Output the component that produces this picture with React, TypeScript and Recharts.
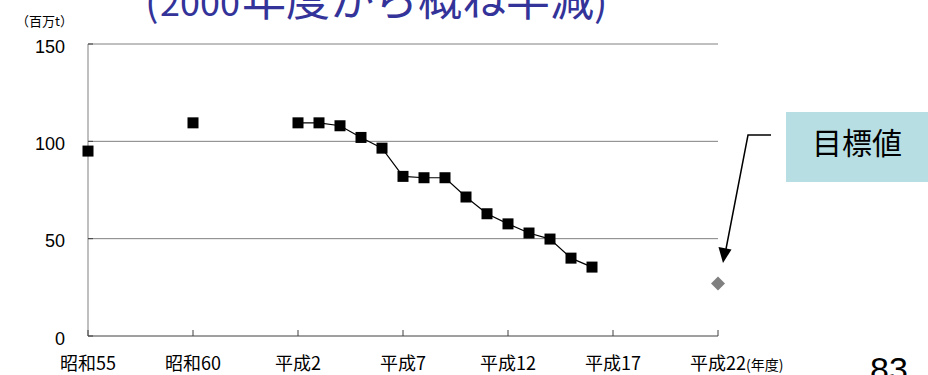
import { ComposedChart, Line, XAxis, YAxis, CartesianGrid } from 'recharts';

// 昭和55・60 の単独の値
const isolatedYears = [1980, 1985];
const isolatedValues = [95, 109.5];

// 平成2 以降の連続した値
const seriesYears = [1990, 1991, 1992, 1993, 1994, 1995, 1996, 1997, 1998, 1999, 2000, 2001, 2002, 2003, 2004];
const seriesValues = [109.5, 109.5, 108, 102, 96.5, 82, 81.3, 81.3, 71.4, 62.8, 57.6, 52.9, 49.8, 40, 35.4];

// 目標値
const targetYears = [2010];
const targetValues = [27];

const tickYears = [1980, 1985, 1990, 1995, 2000, 2005, 2010];
const tickLabels = ['昭和55', '昭和60', '平成2', '平成7', '平成12', '平成17', '平成22'];
const yTicks = [0, 50, 100, 150];

const allYears = Array.from(new Set([...isolatedYears, ...seriesYears, ...targetYears])).sort((a, b) => a - b);
const rows = allYears.map(year => {
  const i = isolatedYears.indexOf(year);
  const s = seriesYears.indexOf(year);
  const t = targetYears.indexOf(year);
  return {
    year,
    isolated: i >= 0 ? isolatedValues[i] : null,
    main: s >= 0 ? seriesValues[s] : null,
    target: t >= 0 ? targetValues[t] : null,
  };
});

const GRAY = '#808080';
const JP = "'Noto Sans CJK JP', sans-serif";
const LATIN = "'Liberation Sans', Arial, sans-serif";

const Square = (props: any) => {
  const { cx, cy, index } = props;
  if (cx == null || cy == null) return <g key={`sq-${index}`} />;
  return <rect key={`sq-${index}`} x={cx - 5.5} y={cy - 5.5} width={11} height={11} fill="#000" />;
};

const Diamond = (props: any) => {
  const { cx, cy, index } = props;
  if (cx == null || cy == null) return <g key={`dm-${index}`} />;
  return <path key={`dm-${index}`} d={`M${cx},${cy - 7}L${cx + 7},${cy}L${cx},${cy + 7}L${cx - 7},${cy}Z`} fill={GRAY} />;
};

const XTick = (props: any) => {
  const { x, y, payload } = props;
  const label = tickLabels[tickYears.indexOf(payload.value)];
  const last = payload.value === tickYears[tickYears.length - 1];
  return (
    <g>
      <line x1={x} x2={x} y1={y} y2={y - 6} stroke="#404040" />
      <text x={x} y={y + 34} textAnchor="middle" fontSize={18} fontFamily={JP} fill="#000">{label}</text>
      {last && (
        <text x={x + 28} y={y + 34} textAnchor="start" fontSize={14} fontFamily={JP} fill="#000">(年度)</text>
      )}
    </g>
  );
};

const YTick = (props: any) => {
  const { x, y, payload } = props;
  return (
    <g>
      <line x1={x} x2={x + 5} y1={y} y2={y} stroke="#404040" />
      <text x={x - 23} y={y + 8.5} textAnchor="end" fontSize={18} fontFamily={LATIN} fill="#000">{payload.value}</text>
    </g>
  );
};

export default function App() {
  return (
    <div style={{ position: 'absolute', left: 0, top: 0, width: 928, height: 375, overflow: 'hidden', background: '#fff' }}>
      <ComposedChart width={928} height={375} data={rows} margin={{ top: 44, right: 210, bottom: 0, left: 0 }}>
        <CartesianGrid horizontal vertical={false} stroke={GRAY} strokeWidth={1} />
        <XAxis
          dataKey="year"
          type="number"
          domain={[1980, 2010]}
          ticks={tickYears}
          height={39}
          tickLine={false}
          tickSize={0}
          tickMargin={0}
          axisLine={{ stroke: GRAY }}
          tick={<XTick />}
          interval={0}
        />
        <YAxis
          domain={[0, 150]}
          ticks={yTicks}
          width={88}
          tickLine={false}
          tickSize={0}
          tickMargin={0}
          axisLine={{ stroke: GRAY }}
          tick={<YTick />}
          interval={0}
        />
        <Line dataKey="isolated" stroke="none" dot={Square} activeDot={false} connectNulls={false} isAnimationActive={false} />
        <Line dataKey="main" stroke="#000" strokeWidth={1.2} dot={Square} activeDot={false} connectNulls={false} isAnimationActive={false} />
        <Line dataKey="target" stroke="none" dot={Diamond} activeDot={false} connectNulls={false} isAnimationActive={false} />
      </ComposedChart>
      <svg width={928} height={375} style={{ position: 'absolute', left: 0, top: 0, pointerEvents: 'none' }}>
        <text y={16} fontFamily={JP} fill="#333399">
          <tspan x={145} fontSize={40}>(</tspan>
          <tspan x={160} fontSize={36}>2000</tspan>
          <tspan x={242} fontSize={44}>年度から概ね半減</tspan>
          <tspan fontSize={40}>)</tspan>
        </text>
        <text x={16} y={26} fontSize={13} fontFamily={JP} fill="#000">（百万t）</text>
        <rect x={786} y={112} width={142} height={70} fill="#B7DFE3" />
        <text x={857} y={154} textAnchor="middle" fontSize={30} fontFamily={JP} fill="#000">目標値</text>
        <polyline points="771,135 748,135 726,249" fill="none" stroke="#000" strokeWidth={1.5} />
        <path d="M723,263 L718.5,247 L731.5,249.5 Z" fill="#000" />
        <text x={870} y={381} fontSize={34} fontFamily={LATIN} fill="#000">83</text>
      </svg>
    </div>
  );
}
